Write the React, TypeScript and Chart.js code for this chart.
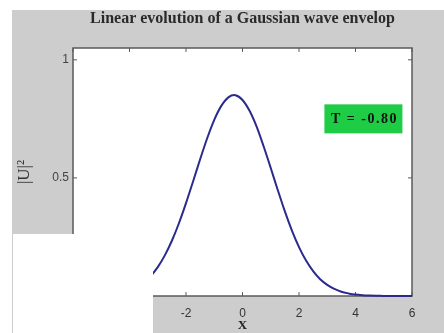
import React, { useEffect, useRef } from "react";
import { Chart, registerables } from "chart.js";

Chart.register(...registerables);

const xValues = [
  -6, -5.75, -5.5, -5.25, -5, -4.75, -4.5, -4.25, -4, -3.75, -3.5, -3.25, -3, -2.75, -2.5, -2.25,
  -2, -1.75, -1.5, -1.25, -1, -0.75, -0.5, -0.25, 0, 0.25, 0.5, 0.75, 1, 1.25, 1.5, 1.75,
  2, 2.25, 2.5, 2.75, 3, 3.25, 3.5, 3.75, 4, 4.25, 4.5, 4.75, 5, 5.25, 5.5, 5.75, 6,
];
const uSquared = [
  0.0001, 0.0003, 0.0006, 0.0012, 0.0023, 0.0043, 0.0077, 0.0133, 0.022, 0.036, 0.055, 0.084, 0.122, 0.172, 0.234, 0.308,
  0.393, 0.485, 0.579, 0.668, 0.746, 0.805, 0.841, 0.85, 0.83, 0.784, 0.717, 0.633, 0.542, 0.448, 0.358, 0.277,
  0.207, 0.15, 0.105, 0.071, 0.047, 0.03, 0.018, 0.011, 0.006, 0.0034, 0.0018, 0.0009, 0.0005, 0.0002, 0.0001, 0, 0,
];
const xTicks = [-6, -4, -2, 0, 2, 4, 6];
const yTicks = [0, 0.5, 1];
const titleText = "Linear evolution of a Gaussian wave envelop";
const xLabel = "X";
const yLabel = "|U|²";
const annotationText = "T = -0.80";
const annotationX = 4.28;
const annotationY = 0.75;

const framePlugin = {
  id: "frame",
  beforeDraw(chart: any) {
    const { ctx, chartArea } = chart;
    const { left, top, right, bottom } = chartArea;
    ctx.save();
    ctx.fillStyle = "#ffffff";
    ctx.fillRect(left, top, right - left, bottom - top);
    ctx.fillStyle = "#2a2a2a";
    ctx.font = "bold 16px 'Liberation Serif', serif";
    ctx.textAlign = "center";
    ctx.textBaseline = "middle";
    ctx.fillText(titleText, (left + right) / 2, 9);
    ctx.restore();
  },
  beforeDatasetsDraw(chart: any) {
    const { ctx, chartArea, scales } = chart;
    const { left, top, right, bottom } = chartArea;
    ctx.save();
    ctx.strokeStyle = "#5a5a5a";
    ctx.lineWidth = 1.5;
    ctx.strokeRect(left, top, right - left, bottom - top);
    ctx.lineWidth = 1;
    const tl = 4;
    ctx.beginPath();
    scales.x.ticks.forEach((t: any) => {
      const px = scales.x.getPixelForValue(t.value);
      ctx.moveTo(px, bottom);
      ctx.lineTo(px, bottom - tl);
      ctx.moveTo(px, top);
      ctx.lineTo(px, top + tl);
    });
    scales.y.ticks.forEach((t: any) => {
      const py = scales.y.getPixelForValue(t.value);
      ctx.moveTo(left, py);
      ctx.lineTo(left + tl, py);
      ctx.moveTo(right, py);
      ctx.lineTo(right - tl, py);
    });
    ctx.stroke();
    ctx.restore();
  },
  afterDatasetsDraw(chart: any) {
    const { ctx, scales } = chart;
    const cx = scales.x.getPixelForValue(annotationX);
    const cy = scales.y.getPixelForValue(annotationY);
    const w = 78;
    const h = 29;
    ctx.save();
    ctx.fillStyle = "#1fcc45";
    ctx.fillRect(cx - w / 2, cy - h / 2, w, h);
    ctx.fillStyle = "#111111";
    ctx.font = "bold 14px 'Liberation Serif', serif";
    ctx.textAlign = "center";
    ctx.textBaseline = "middle";
    (ctx as any).letterSpacing = "1.5px";
    ctx.fillText(annotationText, cx + 1, cy + 1);
    ctx.restore();
  },
};

export default function App() {
  const canvasRef = useRef<HTMLCanvasElement | null>(null);

  useEffect(() => {
    if (!canvasRef.current) return;
    const chart = new Chart(canvasRef.current, {
      type: "line",
      data: {
        datasets: [
          {
            data: xValues.map((x, i) => ({ x, y: uSquared[i] })),
            borderColor: "#2a2b8c",
            borderWidth: 2,
            pointRadius: 0,
            tension: 0.3,
            clip: 3,
          } as any,
        ],
      },
      options: {
        responsive: false,
        animation: false,
        layout: { padding: { left: 2, top: 38, right: 32, bottom: 0 } },
        plugins: {
          legend: { display: false },
          tooltip: { enabled: false },
          title: { display: false },
        },
        scales: {
          x: {
            type: "linear",
            min: -6,
            max: 6,
            afterBuildTicks: (s: any) => {
              s.ticks = xTicks.map((v) => ({ value: v }));
            },
            afterFit: (s: any) => {
              s.height = 37;
            },
            grid: { display: false, drawTicks: false },
            border: { display: false },
            ticks: {
              color: "#333333",
              font: { family: "'Liberation Sans', sans-serif", size: 12 },
              padding: 10,
              maxRotation: 0,
              callback: (v: any) => String(v),
            },
            title: {
              display: true,
              text: xLabel,
              color: "#222222",
              font: { family: "'Liberation Serif', serif", size: 13, weight: "bold" },
              padding: 0,
            },
          },
          y: {
            type: "linear",
            min: 0,
            max: 1.05,
            afterBuildTicks: (s: any) => {
              s.ticks = yTicks.map((v) => ({ value: v }));
            },
            afterFit: (s: any) => {
              s.width = 59;
            },
            grid: { display: false, drawTicks: false },
            border: { display: false },
            ticks: {
              color: "#444444",
              font: { family: "'Liberation Sans', sans-serif", size: 12 },
              padding: 4,
              callback: (v: any) => String(v),
            },
            title: {
              display: true,
              text: yLabel,
              color: "#333333",
              font: { family: "'Liberation Serif', serif", size: 17 },
              padding: 0,
            },
          },
        },
      },
      plugins: [framePlugin],
    });
    return () => chart.destroy();
  }, []);

  return (
    <div style={{ position: "fixed", left: 0, top: 0, width: 444, height: 333, background: "#ffffff", overflow: "hidden" }}>
      <div style={{ position: "absolute", left: 12, top: 10, width: 432, height: 323, background: "#cdcdcd" }}>
        <canvas ref={canvasRef} width={432} height={323} style={{ display: "block", width: 432, height: 323 }} />
      </div>
      <div style={{ position: "absolute", left: 13, top: 234, width: 140, height: 99, background: "#ffffff" }} />
    </div>
  );
}
